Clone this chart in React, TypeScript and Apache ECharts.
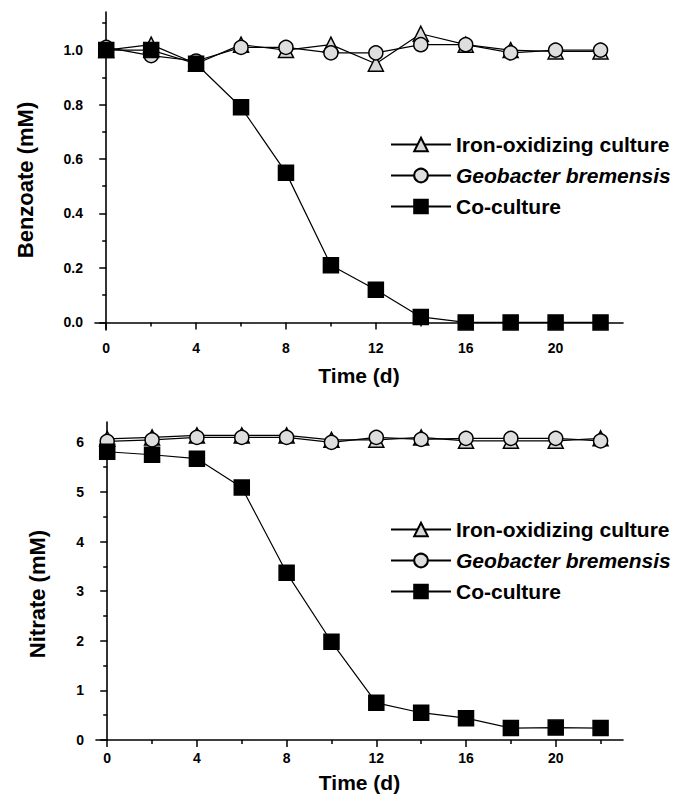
import React, { useEffect, useRef } from 'react';
import * as echarts from 'echarts';

const days = [0, 2, 4, 6, 8, 10, 12, 14, 16, 18, 20, 22];
const seriesNames = ['Iron-oxidizing culture', 'Geobacter bremensis', 'Co-culture'];

const benzoateIron = [1.0, 1.02, 0.95, 1.02, 1.0, 1.02, 0.95, 1.06, 1.02, 1.0, 0.995, 0.995];
const benzoateGeo = [1.01, 0.98, 0.96, 1.01, 1.01, 0.99, 0.99, 1.02, 1.02, 0.99, 1.0, 1.0];
const benzoateCo = [1.0, 1.0, 0.95, 0.79, 0.55, 0.21, 0.12, 0.02, 0.0, 0.0, 0.0, 0.0];

const nitrateIron = [6.07, 6.1, 6.14, 6.14, 6.14, 6.05, 6.05, 6.1, 6.03, 6.03, 6.03, 6.08];
const nitrateGeo = [6.02, 6.05, 6.1, 6.1, 6.1, 6.0, 6.1, 6.06, 6.08, 6.08, 6.08, 6.03];
const nitrateCo = [5.81, 5.75, 5.67, 5.09, 3.37, 1.98, 0.75, 0.55, 0.44, 0.24, 0.25, 0.24];

const xMajorTicks = [0, 4, 8, 12, 16, 20];
const xMinorTicks = [2, 6, 10, 14, 18, 22];
const benzoateMajorTicks = [0, 0.2, 0.4, 0.6, 0.8, 1.0];
const benzoateMinorTicks = [0.1, 0.3, 0.5, 0.7, 0.9, 1.1];
const nitrateMajorTicks = [0, 1, 2, 3, 4, 5, 6];
const nitrateMinorTicks = [0.5, 1.5, 2.5, 3.5, 4.5, 5.5];

const FONT = '"Liberation Sans", Arial, Helvetica, sans-serif';

function pairs(ys: number[]) {
  return days.map((d, i) => [d, ys[i]]);
}

export default function App() {
  const ref = useRef<HTMLDivElement>(null);

  useEffect(() => {
    if (!ref.current) return;
    const chart = echarts.init(ref.current, null, { renderer: 'svg' });

    const axisLine = { show: true, lineStyle: { color: '#000', width: 1.6 } };
    const tickLabel = { color: '#000', fontFamily: FONT, fontWeight: 'bold' as const, fontSize: 14 };

    const majorX = (gridIndex: number, nameGap: number) => ({
      type: 'value', gridIndex, position: 'bottom', min: -0.5, max: 23,
      name: 'Time (d)', nameLocation: 'middle', nameGap,
      nameTextStyle: { color: '#000', fontFamily: FONT, fontWeight: 'bold', fontSize: 21 },
      axisLine,
      axisTick: { show: true, customValues: xMajorTicks, length: 7, lineStyle: { color: '#000', width: 1.5 } },
      axisLabel: { ...tickLabel, margin: 11, customValues: xMajorTicks },
      splitLine: { show: false },
    });
    const minorX = (gridIndex: number) => ({
      type: 'value', gridIndex, position: 'bottom', min: -0.5, max: 23,
      axisLine: { show: false },
      axisTick: { show: true, customValues: xMinorTicks, length: 4, lineStyle: { color: '#000', width: 1.5 } },
      axisLabel: { show: false },
      splitLine: { show: false },
    });
    const majorY = (gridIndex: number, min: number, max: number, ticks: number[], name: string, nameGap: number, digits: number, padding: number[]) => ({
      type: 'value', gridIndex, position: 'left', min, max,
      name, nameLocation: 'middle', nameGap, nameRotate: 90,
      nameTextStyle: { color: '#000', fontFamily: FONT, fontWeight: 'bold', fontSize: 22, padding },
      axisLine,
      axisTick: { show: true, customValues: ticks, length: 7, lineStyle: { color: '#000', width: 1.5 } },
      axisLabel: { ...tickLabel, margin: 12, customValues: ticks, formatter: (v: number) => v.toFixed(digits) },
      splitLine: { show: false },
    });
    const minorY = (gridIndex: number, min: number, max: number, ticks: number[]) => ({
      type: 'value', gridIndex, position: 'left', min, max,
      axisLine: { show: false },
      axisTick: { show: true, customValues: ticks, length: 4, lineStyle: { color: '#000', width: 1.5 } },
      axisLabel: { show: false },
      splitLine: { show: false },
    });

    const styles = [
      { symbol: 'triangle', symbolSize: 15, color: '#d8d8d8' },
      { symbol: 'circle', symbolSize: 14, color: '#dedede' },
      { symbol: 'rect', symbolSize: 15, color: '#000' },
    ];
    const mkSeries = (name: string, idx: number, ys: number[], axisIndex: number) => ({
      type: 'line', name, xAxisIndex: axisIndex, yAxisIndex: axisIndex,
      data: pairs(ys),
      symbol: styles[idx].symbol,
      symbolSize: styles[idx].symbolSize,
      showAllSymbol: true,
      lineStyle: { color: '#000', width: 1.2 },
      itemStyle: { color: styles[idx].color, borderColor: '#000', borderWidth: 1.5, opacity: 1 },
      z: 2 + idx,
    });

    const legendCommon = {
      orient: 'vertical', left: 385, itemWidth: 60, itemHeight: 17, itemGap: 10,
      textStyle: {
        color: '#000', fontFamily: FONT, fontWeight: 'bold', fontSize: 21,
        rich: { i: { color: '#000', fontFamily: FONT, fontWeight: 'bold', fontStyle: 'italic', fontSize: 21 } },
      },
      formatter: (n: string) => (n === 'Geobacter bremensis' ? '{i|' + n + '}' : n),
      data: seriesNames,
    };

    chart.setOption({
      animation: false,
      backgroundColor: '#fff',
      textStyle: { fontFamily: FONT },
      grid: [
        { left: 95, top: 12, width: 528, height: 318 },
        { left: 96, top: 422, width: 527, height: 318 },
      ],
      legend: [
        { ...legendCommon, top: 129 },
        { ...legendCommon, top: 514 },
      ],
      xAxis: [majorX(0, 35), minorX(0), majorX(1, 32), minorX(1)],
      yAxis: [
        majorY(0, -0.028, 1.14, benzoateMajorTicks, 'Benzoate (mM)', 59, 1, [0, 18, 0, 0]),
        minorY(0, -0.028, 1.14, benzoateMinorTicks),
        majorY(1, 0, 6.41, nitrateMajorTicks, 'Nitrate (mM)', 48, 0, [0, 26, 0, 0]),
        minorY(1, 0, 6.41, nitrateMinorTicks),
      ],
      series: [
        mkSeries(seriesNames[0], 0, benzoateIron, 0),
        mkSeries(seriesNames[1], 1, benzoateGeo, 0),
        mkSeries(seriesNames[2], 2, benzoateCo, 0),
        mkSeries(seriesNames[0], 0, nitrateIron, 2),
        mkSeries(seriesNames[1], 1, nitrateGeo, 2),
        mkSeries(seriesNames[2], 2, nitrateCo, 2),
      ],
    });

    return () => chart.dispose();
  }, []);

  return (
    <div
      ref={ref}
      style={{ position: 'fixed', left: 0, top: 0, width: 683, height: 797, background: '#fff' }}
    />
  );
}
